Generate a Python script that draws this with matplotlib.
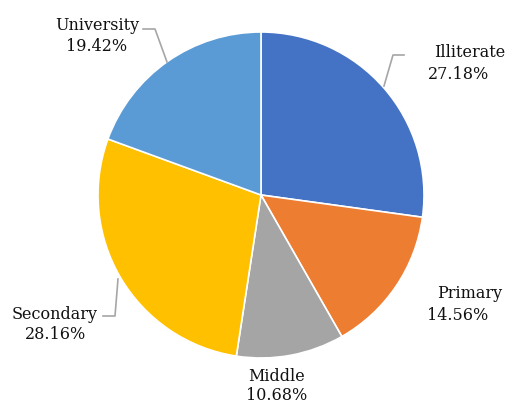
import matplotlib.pyplot as plt

# Education level shares
categories = ["Illiterate", "Primary", "Middle", "Secondary", "University"]
shares = [27.18, 14.56, 10.68, 28.16, 19.42]
colors = ["#4472C4", "#ED7D31", "#A5A5A5", "#FFC000", "#5B9BD5"]

# pie geometry in pixels (center and radius)
W, H = 507, 405
cx, cy, r = 261, 195, 163


def to_data(px, py):
    return (px - cx) / r, (cy - py) / r


fig = plt.figure(figsize=(W / 100, H / 100), dpi=100)
ax = fig.add_axes([(cx - r) / W, (H - cy - r) / H, 2 * r / W, 2 * r / H])
ax.pie(shares, colors=colors, startangle=90, counterclock=False,
       wedgeprops=dict(edgecolor="white", linewidth=1.2), radius=1)
ax.set_xlim(-1, 1)
ax.set_ylim(-1, 1)
ax.set_aspect("equal")
ax.axis("off")

# label baselines in px: (name x, name y, value x, value y)
label_pos = {
    "Illiterate": (470, 57, 459, 79),
    "Primary": (470, 298, 458, 320),
    "Middle": (277, 381, 277, 400),
    "Secondary": (55, 319, 56, 339),
    "University": (97, 30, 97, 51),
}
leaders = {
    "Illiterate": [(384, 86), (393, 55), (404, 55)],
    "University": [(143, 29), (155, 29), (167, 62)],
    "Secondary": [(103, 316), (115, 316), (118, 279)],
}

font = dict(fontsize=11.5, family="DejaVu Serif", color="#111111",
            ha="center", va="baseline", clip_on=False)

for name, val in zip(categories, shares):
    nx, ny, vx, vy = label_pos[name]
    ax.text(*to_data(nx, ny), name, **font)
    ax.text(*to_data(vx, vy), f"{val:.2f}%", **font)

for name, pts in leaders.items():
    xs, ys = zip(*[to_data(px, py) for px, py in pts])
    ax.plot(xs, ys, color="#a6a6a6", linewidth=1.2, clip_on=False)

fig.savefig("out.png", dpi=100)
